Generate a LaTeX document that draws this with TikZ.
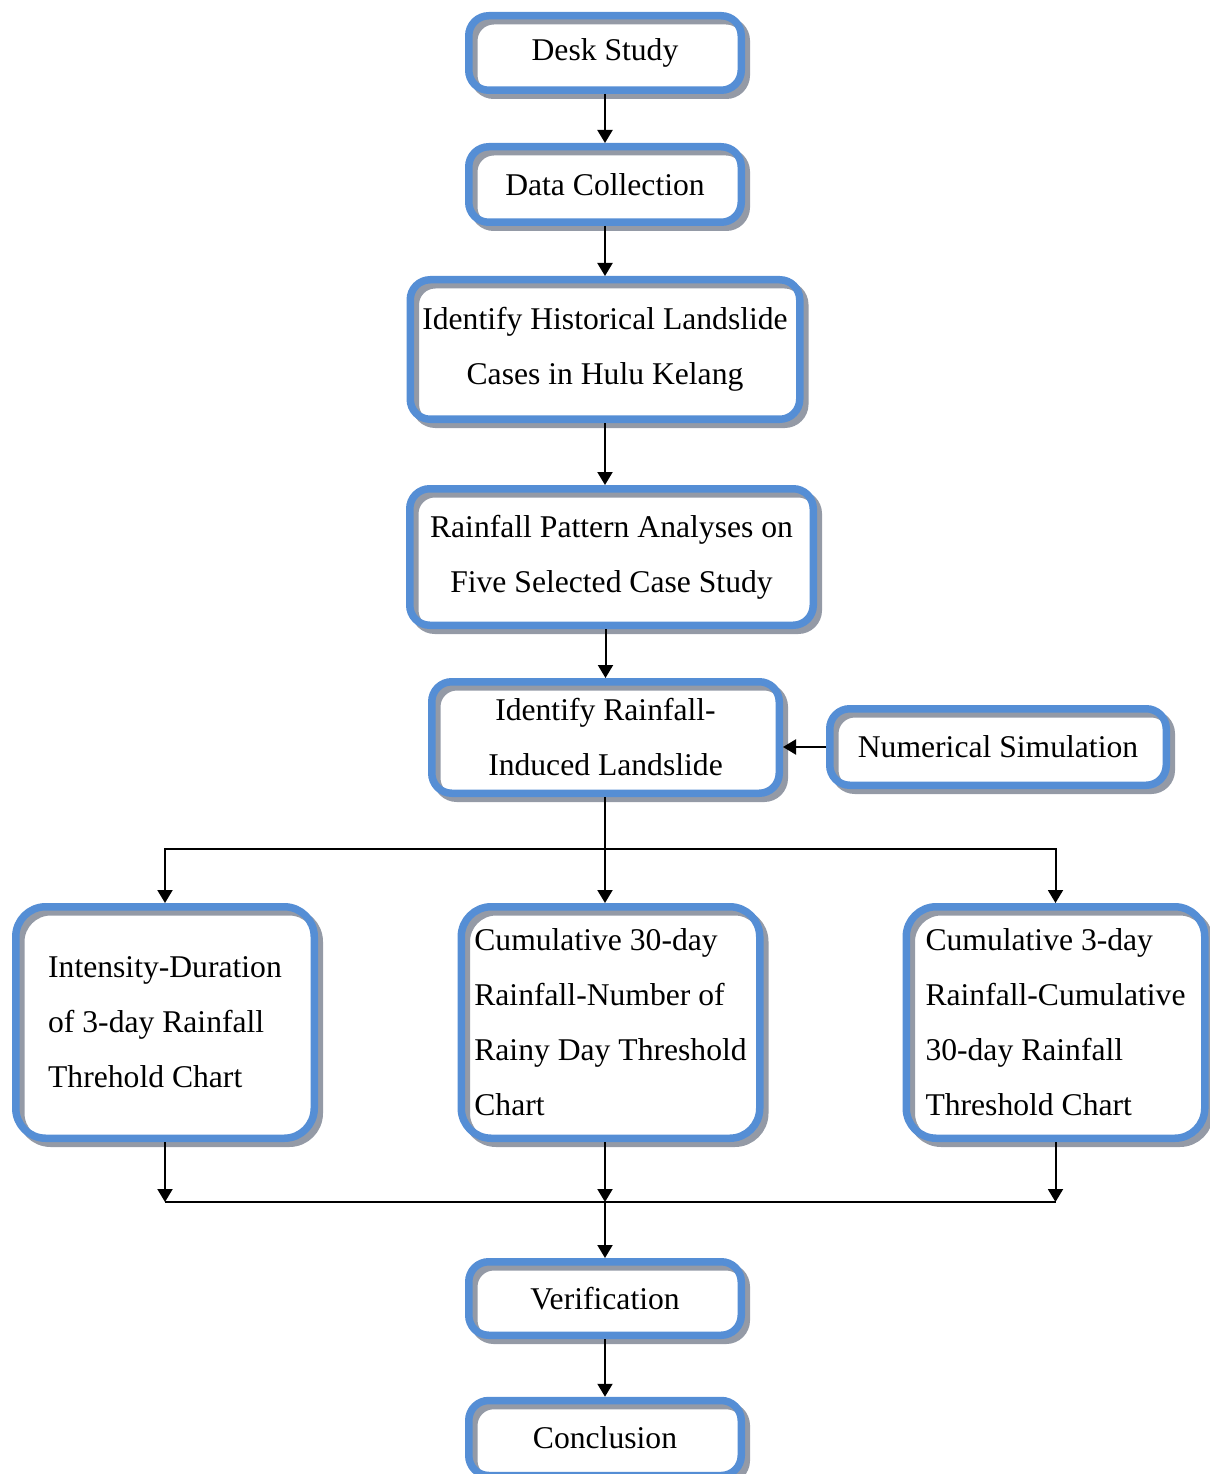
\documentclass[tikz,border=0pt]{standalone}
\usepackage{fontspec}
\setmainfont{Liberation Serif}
\usetikzlibrary{positioning,arrows.meta,calc}
\definecolor{boxblue}{RGB}{85,142,213}
\definecolor{shadegray}{RGB}{148,154,166}

\begin{document}
\begin{tikzpicture}[
  >={Triangle[length=2.6mm,width=3mm]},
  flow/.style={line width=0.4mm},
  box/.style={draw=boxblue, line width=1.5mm, rounded corners=4mm, align=center,
    inner sep=0pt, font=\fontsize{18}{31.3}\selectfont,
    preaction={fill=white},
    preaction={draw=shadegray, line width=1.5mm, transform canvas={shift={(1mm,-1mm)}}}},
  bigbox/.style={box, rounded corners=6mm, align=left, minimum width=59.7mm, minimum height=46.3mm}
]
\useasboundingbox (0,0) rectangle (242mm,-294.8mm);

\node[box, minimum width=54.5mm, minimum height=14.9mm] (desk) at (121mm,-10.6mm) {Desk Study};
\node[box, minimum width=54.5mm, minimum height=15.1mm] (data) at (121mm,-36.9mm) {Data Collection};
\node[box, minimum width=77.9mm, minimum height=27.9mm] (hist) at (121mm,-69.9mm) {Identify Historical Landslide\\Cases in Hulu Kelang};
\node[box, minimum width=80.7mm, minimum height=27.3mm] (pattern) at (122.3mm,-111.4mm) {Rainfall Pattern Analyses on\\Five Selected Case Study};
\node[box, minimum width=69.5mm, minimum height=22.3mm] (induced) at (121.1mm,-147.5mm) {Identify Rainfall-\\Induced Landslide};
\node[box, minimum width=67.3mm, minimum height=15.3mm] (numsim) at (199.6mm,-149.4mm) {Numerical Simulation};

% threshold charts
\node[bigbox] (idchart) at (33mm,-204.5mm) {Intensity-Duration\\of 3-day Rainfall\\Threhold Chart};
\node[bigbox] (cum30) at (122.1mm,-204.5mm) {Cumulative 30-day\\Rainfall-Number of\\Rainy Day Threshold\\Chart};
\node[bigbox] (cum3) at (211.1mm,-204.5mm) {Cumulative 3-day\\Rainfall-Cumulative\\30-day Rainfall\\Threshold Chart};

\node[box, minimum width=54.5mm, minimum height=14.7mm] (verif) at (121mm,-259.7mm) {Verification};
\node[box, minimum width=54.5mm, minimum height=15mm] (concl) at (121mm,-287.6mm) {Conclusion};

\coordinate (split) at (121mm,-169.8mm);
\coordinate (merge) at (121mm,-240.4mm);

\draw[flow,->] (desk) -- (data);
\draw[flow,->] (data) -- (hist);
\draw[flow,->] (hist.south) -- (hist.south |- pattern.north);
\draw[flow,->] (induced.north |- pattern.south) -- (induced.north);
\draw[flow,->] (numsim.west) -- (numsim.west -| induced.east);

\draw[flow] (split |- induced.south) -- (split);
\draw[flow,->] (split) -- (split |- cum30.north);
\draw[flow,->] (split) -| (idchart.north);
\draw[flow,->] (split) -| (cum3.north);

\draw[flow,->] (idchart.south) -- (idchart.south |- merge);
\draw[flow,->] (merge |- cum30.south) -- (merge);
\draw[flow,->] (cum3.south) -- (cum3.south |- merge);
\draw[flow] (idchart.south |- merge) -- (cum3.south |- merge);

\draw[flow,->] (merge) -- (verif);
\draw[flow,->] (verif) -- (concl);
\end{tikzpicture}
\end{document}
